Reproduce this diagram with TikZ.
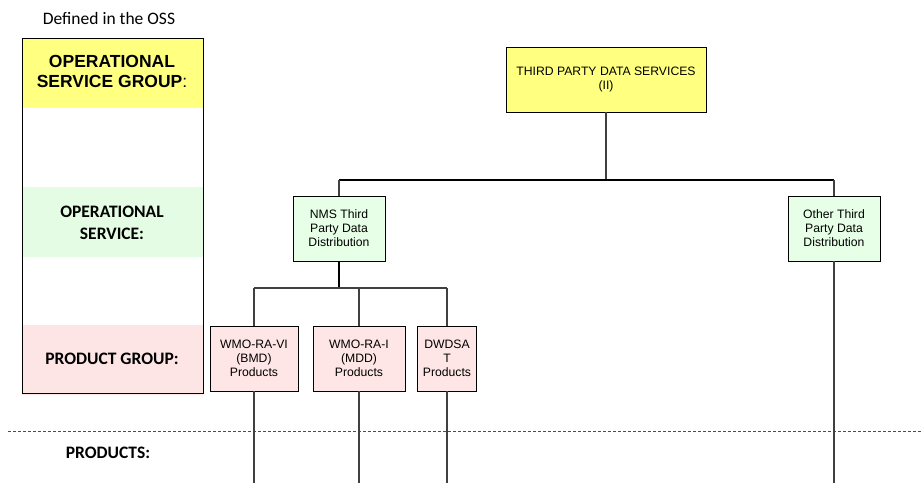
\documentclass[tikz,border=0pt]{standalone}
\usepackage{fontspec}
\setmainfont{Liberation Sans}
\newfontfamily\calib{Carlito}
\begin{document}
\begin{tikzpicture}[x=1pt,y=-1pt,
  conn/.style={draw=black!75, line width=1.2pt},
  orgbox/.style={draw=black, line width=0.9pt, align=center, inner sep=0pt,
    minimum height=65pt, font=\fontsize{12.2}{14}\selectfont},
  groupbox/.style={orgbox, fill=yellowfill, minimum width=200pt},
  svcbox/.style={orgbox, fill=greenfill, minimum width=92pt},
  prodbox/.style={orgbox, fill=pinkfill, minimum height=65pt},
  rowlabel/.style={align=center, inner sep=0pt, font=\calib\bfseries\fontsize{17.5}{22}\selectfont}
]
\definecolor{yellowfill}{HTML}{FFFF80}
\definecolor{greenfill}{HTML}{E6FFE6}
\definecolor{pinkfill}{HTML}{FFE6E6}
\definecolor{bandgreen}{HTML}{E3FCE3}
\definecolor{bandpink}{HTML}{FDE5E5}
\useasboundingbox (0,0) rectangle (922,483);

% level legend on the left
\fill[yellowfill] (22,38) rectangle (203,108);
\fill[bandgreen] (22,187) rectangle (203,257);
\fill[bandpink] (22,325) rectangle (203,395);
\draw[black, line width=0.8pt] (22,38) rectangle (203,393);
\node[font=\calib\fontsize{17.5}{20}\selectfont, inner sep=0pt] (oss) at (109,18) {Defined in the OSS};
\node[align=center, inner sep=0pt, font=\fontsize{17.5}{20}\selectfont] (lgroup) at (112,71)
  {\textbf{OPERATIONAL}\\\textbf{SERVICE GROUP}:};
\node[rowlabel] (lsvc) at (112,222.5) {OPERATIONAL\\SERVICE:};
\node[rowlabel] (lprod) at (112,359) {PRODUCT GROUP:};
\node[rowlabel] (lprods) at (108,453) {PRODUCTS:};

% separator between product groups and products
\draw[black!70, line width=0.8pt, dash pattern=on 3pt off 2pt] (8,431) -- (922,431);

% organisation tree
\node[groupbox] (top) at (606,79.5) {THIRD PARTY DATA SERVICES\\(II)};
\node[svcbox] (nms) at (339,228.5) {NMS Third\\Party Data\\Distribution};
\node[svcbox] (oth) at (834,228.5) {Other Third\\Party Data\\Distribution};
\node[prodbox, minimum width=88pt] (p1) at (254,358.5) {WMO-RA-VI\\(BMD)\\Products};
\node[prodbox, minimum width=92pt] (p2) at (359,358.5) {WMO-RA-I\\(MDD)\\Products};
\node[prodbox, minimum width=59pt] (p3) at (447,358.5) {DWDSA\\T\\Products};

\coordinate (busT) at (606,180);
\coordinate (busL) at (339,180);
\coordinate (busR) at (834,180);
\coordinate (nbusM) at (339,288);
\coordinate (nbus1) at (254,288);
\coordinate (nbus2) at (359,288);
\coordinate (nbus3) at (447,288);
\coordinate (end1) at (254,483);
\coordinate (end2) at (359,483);
\coordinate (end3) at (447,483);
\coordinate (endR) at (834,483);

\draw[conn] (top) -- (busT);
\draw[black, line width=1.1pt] (busL) -- (busR);
\draw[conn] (busL) -- (nms);
\draw[conn] (busR) -- (oth);
\draw[black, line width=2pt] (nms) -- (nbusM);
\draw[conn] (nbus1) -- (nbus3);
\draw[conn] (nbus1) -- (p1);
\draw[conn] (nbus2) -- (p2);
\draw[conn] (nbus3) -- (p3);
\draw[conn] (p1) -- (end1);
\draw[conn] (p2) -- (end2);
\draw[conn] (p3) -- (end3);
\draw[conn] (oth) -- (endR);
\end{tikzpicture}
\end{document}
